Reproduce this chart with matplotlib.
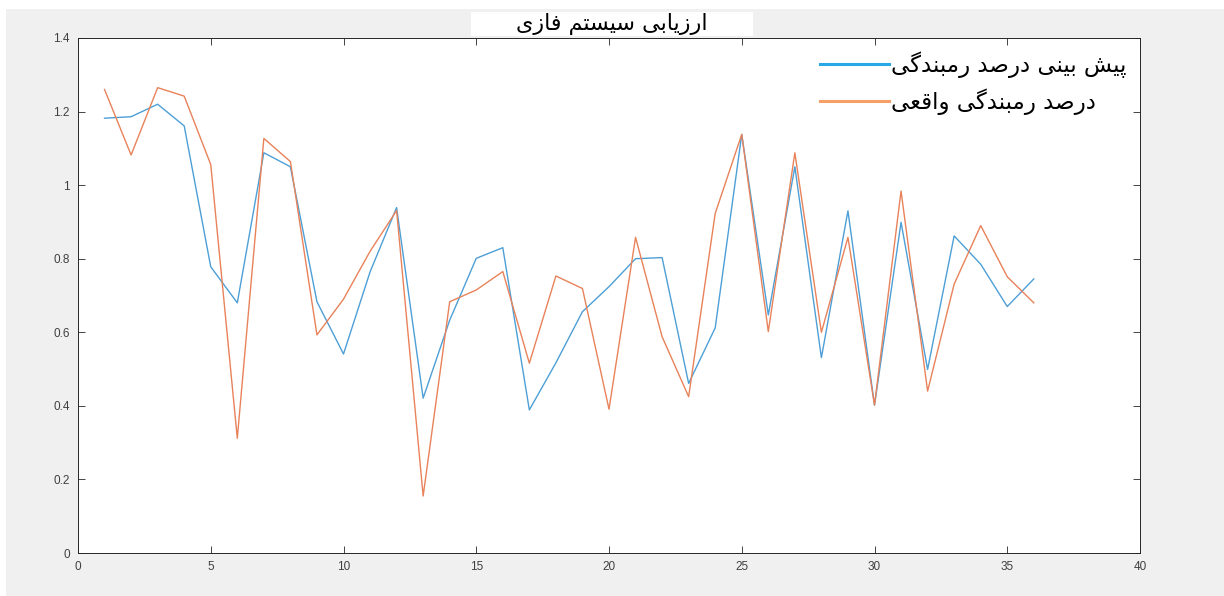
import matplotlib.pyplot as plt
from matplotlib.patches import Rectangle

# sample index 1..36
samples = list(range(1, 37))

# predicted values (fuzzy system output)
predicted = [1.182, 1.186, 1.220, 1.161, 0.778, 0.680, 1.088, 1.050, 0.683, 0.541,
             0.764, 0.939, 0.421, 0.633, 0.801, 0.830, 0.389, 0.517, 0.656, 0.724,
             0.800, 0.803, 0.461, 0.612, 1.138, 0.647, 1.050, 0.531, 0.930, 0.402,
             0.899, 0.499, 0.862, 0.785, 0.670, 0.745]

# measured values
actual = [1.260, 1.082, 1.265, 1.242, 1.056, 0.312, 1.127, 1.064, 0.593, 0.690,
          0.820, 0.931, 0.155, 0.683, 0.715, 0.765, 0.516, 0.753, 0.719, 0.391,
          0.858, 0.588, 0.425, 0.923, 1.138, 0.602, 1.088, 0.600, 0.858, 0.402,
          0.984, 0.440, 0.731, 0.890, 0.751, 0.680]

title_text = 'ارزیابی سیستم فازی'
label_pred = 'پیش بینی درصد رمبندگی'
label_actual = 'درصد رمبندگی واقعی'

x_ticks = [0, 5, 10, 15, 20, 25, 30, 35, 40]
y_ticks = [0, 0.2, 0.4, 0.6, 0.8, 1.0, 1.2, 1.4]
y_tick_labels = ['0', '0.2', '0.4', '0.6', '0.8', '1', '1.2', '1.4']

# matplotlib has no arabic shaping, so pick presentation forms by hand
# (isolated, final, initial, medial)
FORMS = {
    'ا': (0xFE8D, 0xFE8E), 'ب': (0xFE8F, 0xFE90, 0xFE91, 0xFE92),
    'پ': (0xFB56, 0xFB57, 0xFB58, 0xFB59), 'ت': (0xFE95, 0xFE96, 0xFE97, 0xFE98),
    'د': (0xFEA9, 0xFEAA), 'ر': (0xFEAD, 0xFEAE), 'ز': (0xFEAF, 0xFEB0),
    'س': (0xFEB1, 0xFEB2, 0xFEB3, 0xFEB4), 'ش': (0xFEB5, 0xFEB6, 0xFEB7, 0xFEB8),
    'ص': (0xFEB9, 0xFEBA, 0xFEBB, 0xFEBC), 'ع': (0xFEC9, 0xFECA, 0xFECB, 0xFECC),
    'ف': (0xFED1, 0xFED2, 0xFED3, 0xFED4), 'ق': (0xFED5, 0xFED6, 0xFED7, 0xFED8),
    'گ': (0xFB92, 0xFB93, 0xFB94, 0xFB95), 'م': (0xFEE1, 0xFEE2, 0xFEE3, 0xFEE4),
    'ن': (0xFEE5, 0xFEE6, 0xFEE7, 0xFEE8), 'و': (0xFEED, 0xFEEE),
    'ی': (0xFBFC, 0xFBFD, 0xFBFE, 0xFBFF),
}


def shape(text):
    out = []
    for i, ch in enumerate(text):
        if ch not in FORMS:
            out.append(ch)
            continue
        prev = text[i - 1] if i > 0 else ''
        nxt = text[i + 1] if i + 1 < len(text) else ''
        f = FORMS[ch]
        join_prev = prev in FORMS and len(FORMS[prev]) == 4
        join_next = nxt in FORMS and len(f) == 4
        if join_prev and join_next:
            g = f[3]
        elif join_prev:
            g = f[1]
        elif join_next:
            g = f[2]
        else:
            g = f[0]
        out.append(chr(g))
    return ''.join(reversed(out))


W, H = 1224, 596
fig = plt.figure(figsize=(W / 100, H / 100), dpi=100, facecolor='white')
fig.patches.append(Rectangle((6 / W, 0), 1, 1 - 9 / H, transform=fig.transFigure,
                             facecolor='#f0f0f0', edgecolor='none', zorder=-10))

ax = fig.add_axes([78 / W, 43 / H, (1140 - 78) / W, (553 - 38) / H])
ax.set_facecolor('white')

l1, = ax.plot(samples, predicted, color='#4d9fd6', lw=1.0, label=shape(label_pred))
l2, = ax.plot(samples, actual, color='#e8825a', lw=1.0, label=shape(label_actual))

ax.set_xlim(0, 40)
ax.set_ylim(0, 1.4)
ax.set_xticks(x_ticks)
ax.set_yticks(y_ticks)
ax.set_yticklabels(y_tick_labels)
ax.tick_params(direction='in', top=True, right=True, length=5, width=0.6,
               colors='#262626', labelsize=8.5, pad=6)
for lab in ax.get_xticklabels() + ax.get_yticklabels():
    lab.set_fontfamily(['Liberation Sans Narrow', 'Liberation Sans', 'DejaVu Sans'])
    lab.set_color('#404040')
for s in ax.spines.values():
    s.set_color('#262626')
    s.set_linewidth(0.7)

leg = ax.legend(loc='upper right', bbox_to_anchor=(1.0, 1.0), frameon=False,
                prop={'family': 'DejaVu Sans', 'size': 16.5}, handlelength=3.0,
                handletextpad=0.1, labelspacing=0.45, borderaxespad=0.2)
for line, c in zip(leg.get_lines(), ['#29a8e6', '#f5a064']):
    line.set_color(c)
    line.set_linewidth(2.2)

# title in a white strip above the axes
fig.patches.append(Rectangle((471 / W, 1 - 36 / H), 282 / W, 24 / H,
                             transform=fig.transFigure, facecolor='white',
                             edgecolor='none', zorder=5))
fig.text(612 / W, 1 - 24 / H, shape(title_text), ha='center', va='center',
         fontsize=16, family='DejaVu Sans', color='black', zorder=6)

fig.savefig('out.png', dpi=100, facecolor=fig.get_facecolor())
